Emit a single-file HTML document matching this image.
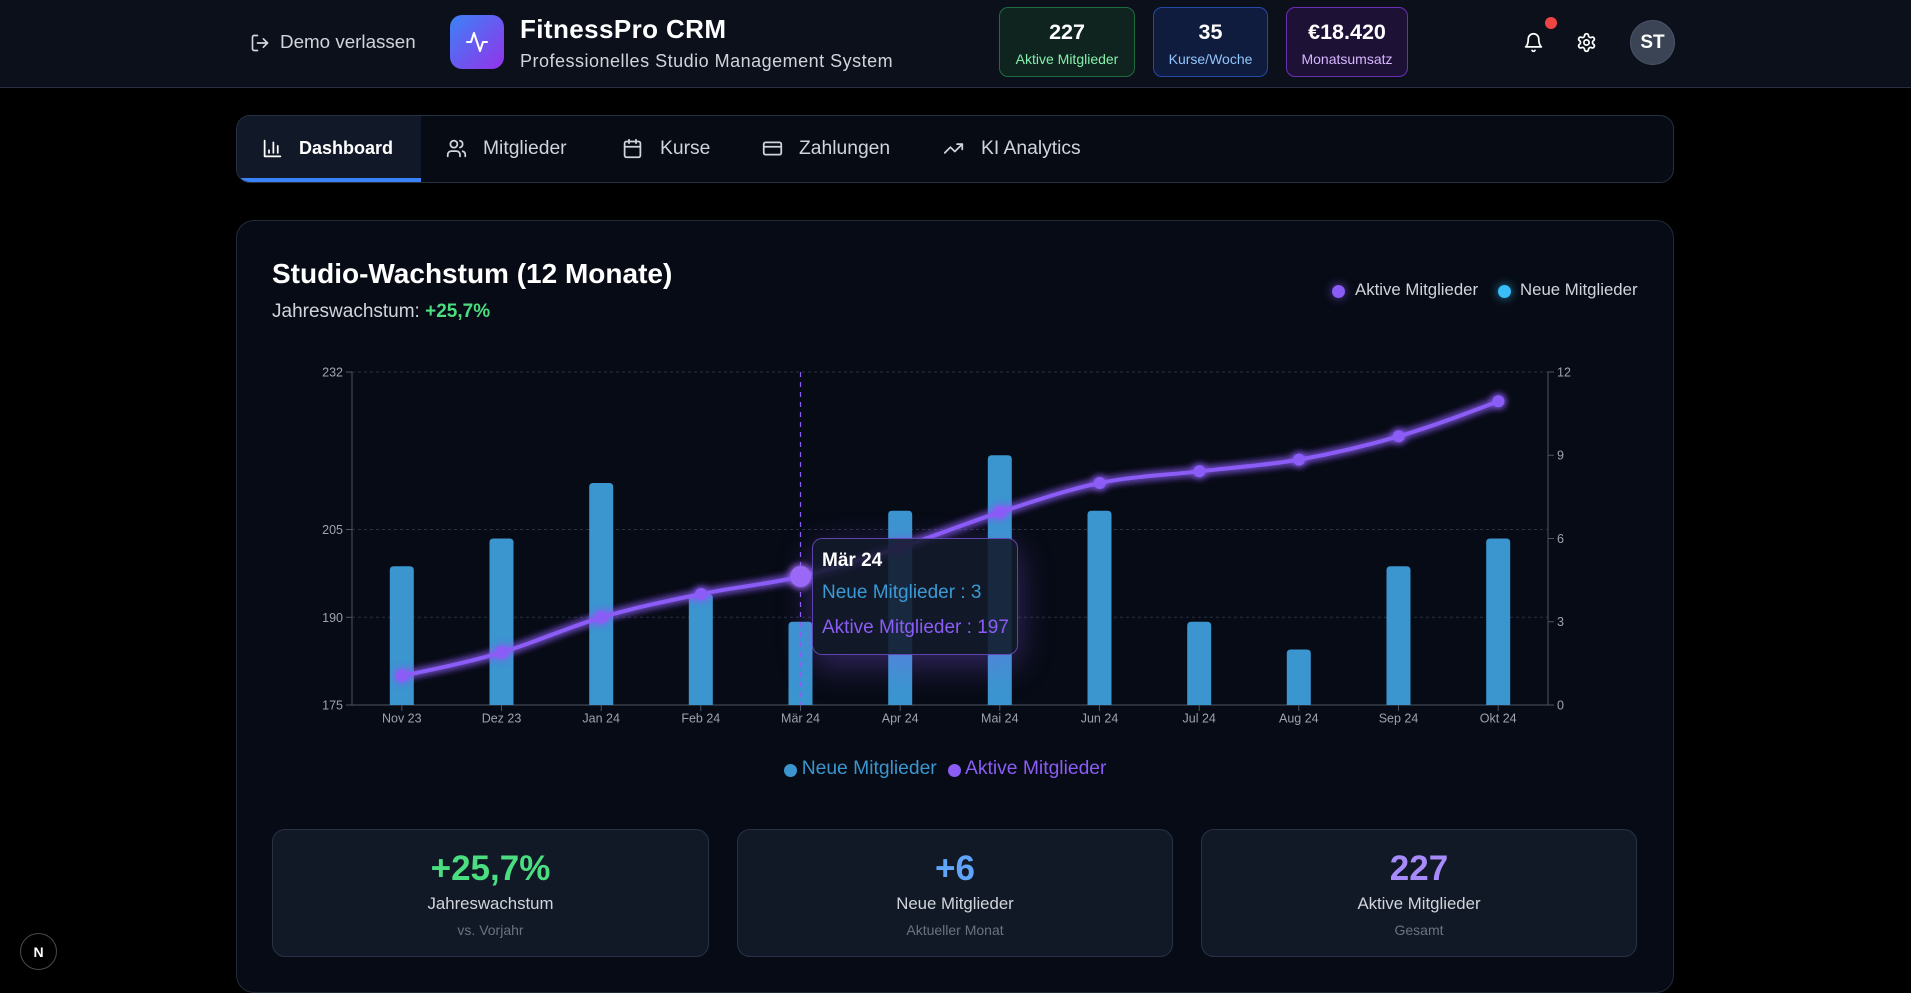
<!DOCTYPE html>
<html><head><meta charset="utf-8"><style>
*{box-sizing:border-box;margin:0;padding:0}
html,body{width:1911px;height:988px;overflow:hidden;background:#000;font-family:"Liberation Sans",Arial,sans-serif}
.a{position:absolute;line-height:1;white-space:nowrap}
.hdr{position:absolute;left:0;top:0;width:1911px;height:88px;background:#0b101b;border-bottom:1px solid #283041}
.sb{position:absolute;top:7px;height:70px;border-radius:9px;border:1px solid}
.sb .n{position:absolute;left:0;right:0;top:14px;text-align:center;font-weight:bold;font-size:21.5px;color:#fff;line-height:1}
.sb .l{position:absolute;left:0;right:0;top:44px;text-align:center;font-size:14px;line-height:1}
.tab{color:#d1d5db;font-size:19.3px}
.card{position:absolute;top:829px;height:128px;background:#111826;border:1px solid #293244;border-radius:13px}
.card .v{position:absolute;left:0;right:0;top:21px;text-align:center;font-weight:bold;font-size:35px;line-height:1}
.card .t{position:absolute;left:0;right:0;top:66px;text-align:center;font-size:16.8px;color:#d1d5db;line-height:1}
.card .s{position:absolute;left:0;right:0;top:93px;text-align:center;font-size:14px;color:#6b7280;line-height:1}
</style></head><body>

<div class="hdr"></div>
<svg class="a" style="left:250px;top:33px" width="20" height="20" viewBox="0 0 24 24" fill="none" stroke="#d1d5db" stroke-width="2" stroke-linecap="round" stroke-linejoin="round"><path d="M9 21H5a2 2 0 0 1-2-2V5a2 2 0 0 1 2-2h4"/><polyline points="16 17 21 12 16 7"/><line x1="21" y1="12" x2="9" y2="12"/></svg>
<div class="a" style="left:280px;top:33.4px;font-size:18.8px;color:#d1d5db">Demo verlassen</div>

<div class="a" style="left:450px;top:15px;width:54px;height:54px;border-radius:12px;background:linear-gradient(135deg,#3b82f6,#9333ea)"></div>
<svg class="a" style="left:465px;top:30px" width="24" height="24" viewBox="0 0 24 24" fill="none" stroke="#fff" stroke-width="2" stroke-linecap="round" stroke-linejoin="round"><polyline points="22 12 18 12 15 21 9 3 6 12 2 12"/></svg>
<div class="a" style="left:520px;top:15.7px;font-size:26px;font-weight:bold;color:#fff;letter-spacing:0.4px">FitnessPro CRM</div>
<div class="a" style="left:520px;top:51.5px;font-size:18px;color:#d1d5db;letter-spacing:0.5px">Professionelles Studio Management System</div>

<div class="sb" style="left:999px;width:136px;background:#0f231f;border-color:#1f6b40"><div class="n">227</div><div class="l" style="color:#86efac">Aktive Mitglieder</div></div>
<div class="sb" style="left:1153px;width:115px;background:#0f1c3d;border-color:#2449a8"><div class="n">35</div><div class="l" style="color:#93c5fd">Kurse/Woche</div></div>
<div class="sb" style="left:1286px;width:122px;background:#1d1236;border-color:#6b2fb3"><div class="n">€18.420</div><div class="l" style="color:#d8b4fe">Monatsumsatz</div></div>

<svg class="a" style="left:1523px;top:32px" width="21" height="21" viewBox="0 0 24 24" fill="none" stroke="#fff" stroke-width="2" stroke-linecap="round" stroke-linejoin="round"><path d="M6 8a6 6 0 0 1 12 0c0 7 3 9 3 9H3s3-2 3-9"/><path d="M10.3 21a1.94 1.94 0 0 0 3.4 0"/></svg>
<div class="a" style="left:1545px;top:17px;width:12px;height:12px;border-radius:50%;background:#ef4444"></div>
<svg class="a" style="left:1576px;top:32px" width="21" height="21" viewBox="0 0 24 24" fill="none" stroke="#fff" stroke-width="2" stroke-linecap="round" stroke-linejoin="round"><path d="M12.22 2h-.44a2 2 0 0 0-2 2v.18a2 2 0 0 1-1 1.73l-.43.25a2 2 0 0 1-2 0l-.15-.08a2 2 0 0 0-2.73.73l-.22.38a2 2 0 0 0 .73 2.73l.15.1a2 2 0 0 1 1 1.72v.51a2 2 0 0 1-1 1.74l-.15.09a2 2 0 0 0-.73 2.73l.22.38a2 2 0 0 0 2.73.73l.15-.08a2 2 0 0 1 2 0l.43.25a2 2 0 0 1 1 1.73V20a2 2 0 0 0 2 2h.44a2 2 0 0 0 2-2v-.18a2 2 0 0 1 1-1.730l.43-.25a2 2 0 0 1 2 0l.15.08a2 2 0 0 0 2.73-.73l.22-.39a2 2 0 0 0-.73-2.73l-.15-.08a2 2 0 0 1-1-1.74v-.5a2 2 0 0 1 1-1.74l.15-.09a2 2 0 0 0 .73-2.73l-.22-.38a2 2 0 0 0-2.73-.73l-.15.08a2 2 0 0 1-2 0l-.43-.25a2 2 0 0 1-1-1.73V4a2 2 0 0 0-2-2z"/><circle cx="12" cy="12" r="3"/></svg>
<div class="a" style="left:1630px;top:20px;width:45px;height:45px;border-radius:50%;background:#3b4454;border:1px solid #4a5466"></div>
<div class="a" style="left:1630px;top:33px;width:45px;text-align:center;font-size:19px;font-weight:bold;color:#fff">ST</div>

<!-- Nav -->
<div class="a" style="left:236px;top:115px;width:1438px;height:68px;border:1px solid #273142;border-radius:14px;background:#070b14;overflow:hidden">
  <div style="position:absolute;left:0;top:0;width:184px;height:66px;background:#111827"></div>
  <div style="position:absolute;left:0;top:62px;width:184px;height:4px;background:#3b82f6"></div>
</div>
<svg class="a" style="left:261.5px;top:137.5px" width="21" height="21" viewBox="0 0 24 24" fill="none" stroke="#fff" stroke-width="2" stroke-linecap="round" stroke-linejoin="round"><path d="M3 3v18h18"/><path d="M18 17V9"/><path d="M13 17V5"/><path d="M8 17v-3"/></svg>
<div class="a" style="left:299px;top:139px;font-size:18px;font-weight:bold;color:#fff">Dashboard</div>
<svg class="a" style="left:446px;top:137.5px" width="21" height="21" viewBox="0 0 24 24" fill="none" stroke="#d1d5db" stroke-width="2" stroke-linecap="round" stroke-linejoin="round"><path d="M16 21v-2a4 4 0 0 0-4-4H6a4 4 0 0 0-4 4v2"/><circle cx="9" cy="7" r="4"/><path d="M22 21v-2a4 4 0 0 0-3-3.87"/><path d="M16 3.13a4 4 0 0 1 0 7.75"/></svg>
<div class="a tab" style="left:483px;top:139px">Mitglieder</div>
<svg class="a" style="left:622.4px;top:137.5px" width="21" height="21" viewBox="0 0 24 24" fill="none" stroke="#d1d5db" stroke-width="2" stroke-linecap="round" stroke-linejoin="round"><rect x="3" y="4" width="18" height="18" rx="2"/><path d="M16 2v4"/><path d="M8 2v4"/><path d="M3 10h18"/></svg>
<div class="a tab" style="left:660px;top:139px">Kurse</div>
<svg class="a" style="left:762px;top:137.5px" width="21" height="21" viewBox="0 0 24 24" fill="none" stroke="#d1d5db" stroke-width="2" stroke-linecap="round" stroke-linejoin="round"><rect x="2" y="5" width="20" height="14" rx="2"/><path d="M2 10h20"/></svg>
<div class="a tab" style="left:799px;top:139px">Zahlungen</div>
<svg class="a" style="left:943px;top:137.5px" width="21" height="21" viewBox="0 0 24 24" fill="none" stroke="#d1d5db" stroke-width="2" stroke-linecap="round" stroke-linejoin="round"><polyline points="22 7 13.5 15.5 8.5 10.5 2 17"/><polyline points="16 7 22 7 22 13"/></svg>
<div class="a tab" style="left:981px;top:139px">KI Analytics</div>

<!-- Main card -->
<div class="a" style="left:236px;top:220px;width:1438px;height:773px;border:1px solid #222a3a;border-radius:18px;background:#070b15"></div>
<div class="a" style="left:272px;top:260.3px;font-size:28px;font-weight:bold;color:#fff">Studio-Wachstum (12 Monate)</div>
<div class="a" style="left:272px;top:301.9px;font-size:19px;color:#d1d5db">Jahreswachstum: <span style="color:#4ade80;font-weight:bold">+25,7%</span></div>

<div class="a" style="left:1331.5px;top:284.5px;width:13px;height:13px;border-radius:50%;background:#8b5cf6;box-shadow:0 0 10px rgba(139,92,246,0.7)"></div>
<div class="a" style="left:1355px;top:282.3px;font-size:16.8px;color:#d1d5db">Aktive Mitglieder</div>
<div class="a" style="left:1497.5px;top:284.5px;width:13px;height:13px;border-radius:50%;background:#38bdf8;box-shadow:0 0 10px rgba(56,189,248,0.7)"></div>
<div class="a" style="left:1520px;top:282.3px;font-size:16.8px;color:#d1d5db">Neue Mitglieder</div>

<svg class="a" style="left:0;top:0" width="1911" height="988" viewBox="0 0 1911 988" font-family="Liberation Sans, Arial, sans-serif">
<defs>
<filter id="glow" filterUnits="userSpaceOnUse" x="300" y="330" width="1300" height="420"><feGaussianBlur stdDeviation="4" result="b"/><feMerge><feMergeNode in="b"/><feMergeNode in="b"/><feMergeNode in="SourceGraphic"/></feMerge></filter>
</defs>
<g stroke="#283142" stroke-dasharray="3 3" stroke-width="1">
<line x1="352" y1="372" x2="1548" y2="372"/>
<line x1="352" y1="529.5" x2="1548" y2="529.5"/>
<line x1="352" y1="617.3" x2="1548" y2="617.3"/>
</g>
<g stroke="#4b5563" stroke-width="1">
<line x1="352" y1="372" x2="352" y2="705"/>
<line x1="1548" y1="372" x2="1548" y2="705"/>
<line x1="352" y1="705" x2="1548" y2="705"/>
<line x1="346" y1="372" x2="352" y2="372"/><line x1="346" y1="529.5" x2="352" y2="529.5"/><line x1="346" y1="617.3" x2="352" y2="617.3"/><line x1="346" y1="705" x2="352" y2="705"/>
<line x1="1548" y1="372" x2="1554" y2="372"/><line x1="1548" y1="455.25" x2="1554" y2="455.25"/><line x1="1548" y1="538.5" x2="1554" y2="538.5"/><line x1="1548" y1="621.75" x2="1554" y2="621.75"/><line x1="1548" y1="705" x2="1554" y2="705"/>
<line x1="401.8" y1="705" x2="401.8" y2="711"/><line x1="501.5" y1="705" x2="501.5" y2="711"/><line x1="601.2" y1="705" x2="601.2" y2="711"/><line x1="700.8" y1="705" x2="700.8" y2="711"/><line x1="800.5" y1="705" x2="800.5" y2="711"/><line x1="900.2" y1="705" x2="900.2" y2="711"/><line x1="999.8" y1="705" x2="999.8" y2="711"/><line x1="1099.5" y1="705" x2="1099.5" y2="711"/><line x1="1199.2" y1="705" x2="1199.2" y2="711"/><line x1="1298.8" y1="705" x2="1298.8" y2="711"/><line x1="1398.5" y1="705" x2="1398.5" y2="711"/><line x1="1498.2" y1="705" x2="1498.2" y2="711"/>
</g>
<g fill="#9ca3af" font-size="12.5">
<g text-anchor="end">
<text x="343" y="376.5">232</text><text x="343" y="534">205</text><text x="343" y="621.8">190</text><text x="343" y="709.5">175</text>
</g>
<g text-anchor="start">
<text x="1557" y="376.5">12</text><text x="1557" y="459.7">9</text><text x="1557" y="543">6</text><text x="1557" y="626.2">3</text><text x="1557" y="709.5">0</text>
</g>
<g text-anchor="middle">
<text x="401.8" y="722.5">Nov 23</text><text x="501.5" y="722.5">Dez 23</text><text x="601.2" y="722.5">Jan 24</text><text x="700.8" y="722.5">Feb 24</text><text x="800.5" y="722.5">Mär 24</text><text x="900.2" y="722.5">Apr 24</text><text x="999.8" y="722.5">Mai 24</text><text x="1099.5" y="722.5">Jun 24</text><text x="1199.2" y="722.5">Jul 24</text><text x="1298.8" y="722.5">Aug 24</text><text x="1398.5" y="722.5">Sep 24</text><text x="1498.2" y="722.5">Okt 24</text>
</g>
</g>
<g fill="#3b95cf">
<path d="M389.8,705V570.25Q389.8,566.25 393.8,566.25H409.8Q413.8,566.25 413.8,570.25V705Z"/>
<path d="M489.5,705V542.5Q489.5,538.5 493.5,538.5H509.5Q513.5,538.5 513.5,542.5V705Z"/>
<path d="M589.2,705V487Q589.2,483 593.2,483H609.2Q613.2,483 613.2,487V705Z"/>
<path d="M688.8,705V598Q688.8,594 692.8,594H708.8Q712.8,594 712.8,598V705Z"/>
<path d="M788.5,705V625.75Q788.5,621.75 792.5,621.75H808.5Q812.5,621.75 812.5,625.75V705Z"/>
<path d="M888.2,705V514.75Q888.2,510.75 892.2,510.75H908.2Q912.2,510.75 912.2,514.75V705Z"/>
<path d="M987.8,705V459.25Q987.8,455.25 991.8,455.25H1007.8Q1011.8,455.25 1011.8,459.25V705Z"/>
<path d="M1087.5,705V514.75Q1087.5,510.75 1091.5,510.75H1107.5Q1111.5,510.75 1111.5,514.75V705Z"/>
<path d="M1187.2,705V625.75Q1187.2,621.75 1191.2,621.75H1207.2Q1211.2,621.75 1211.2,625.75V705Z"/>
<path d="M1286.8,705V653.5Q1286.8,649.5 1290.8,649.5H1306.8Q1310.8,649.5 1310.8,653.5V705Z"/>
<path d="M1386.5,705V570.25Q1386.5,566.25 1390.5,566.25H1406.5Q1410.5,566.25 1410.5,570.25V705Z"/>
<path d="M1486.2,705V542.5Q1486.2,538.5 1490.2,538.5H1506.2Q1510.2,538.5 1510.2,542.5V705Z"/>
</g>
<line x1="800.5" y1="372" x2="800.5" y2="705" stroke="#8b5cf6" stroke-width="1.2" stroke-dasharray="5 5"/>
<g filter="url(#glow)">
<path fill="none" stroke="#8b5cf6" stroke-width="4" stroke-linecap="round" d="M402,675.8 C435.2,668.97 468.5,662.13 501.7,652.4 C534.9,642.67 568.1,627.13 601.3,617.4 C634.5,607.67 667.8,600.82 701,594 C734.2,587.18 767.5,584.28 800.7,576.5 C833.9,568.72 867.2,558.02 900.4,547.3 C933.6,536.58 966.8,522.92 1000,512.2 C1033.2,501.48 1066.5,489.82 1099.7,483 C1132.9,476.18 1166.2,475.2 1199.4,471.3 C1232.6,467.4 1265.8,465.43 1299,459.6 C1332.2,453.77 1365.5,446.03 1398.7,436.3 C1431.9,426.57 1465.2,413.88 1498.4,401.2"/>
<g fill="#8b5cf6">
<circle cx="402" cy="675.8" r="6"/><circle cx="501.7" cy="652.4" r="6"/><circle cx="601.3" cy="617.4" r="6"/><circle cx="701" cy="594" r="6"/><circle cx="900.4" cy="547.3" r="6"/><circle cx="1000" cy="512.2" r="6"/><circle cx="1099.7" cy="483" r="6"/><circle cx="1199.4" cy="471.3" r="6"/><circle cx="1299" cy="459.6" r="6"/><circle cx="1398.7" cy="436.3" r="6"/><circle cx="1498.4" cy="401.2" r="6"/>
<circle cx="800.7" cy="576.5" r="10.5" fill="#9d6bf7"/>
</g>
</g>
</svg>

<!-- Tooltip -->
<div class="a" style="left:812px;top:538px;width:206px;height:117px;border:1px solid rgba(139,92,246,0.65);border-radius:10px;background:rgba(19,26,43,0.88);box-shadow:0 10px 34px rgba(139,92,246,0.35)"></div>
<div class="a" style="left:822px;top:550.9px;font-size:19px;font-weight:bold;color:#fff">Mär 24</div>
<div class="a" style="left:822px;top:582.6px;font-size:19px;color:#3b9ad6">Neue Mitglieder : 3</div>
<div class="a" style="left:822px;top:617.9px;font-size:19px;color:#8b5cf6">Aktive Mitglieder : 197</div>

<!-- Bottom legend -->
<div class="a" style="left:783.5px;top:763.5px;width:13px;height:13px;border-radius:50%;background:#3b95cf"></div>
<div class="a" style="left:801.7px;top:759.4px;font-size:19.3px;color:#3b95cf">Neue Mitglieder</div>
<div class="a" style="left:947.5px;top:763.5px;width:13px;height:13px;border-radius:50%;background:#8b5cf6"></div>
<div class="a" style="left:965px;top:759.4px;font-size:19.3px;color:#8b5cf6">Aktive Mitglieder</div>

<!-- Stat cards -->
<div class="card" style="left:272px;width:437px"><div class="v" style="color:#4ade80">+25,7%</div><div class="t">Jahreswachstum</div><div class="s">vs. Vorjahr</div></div>
<div class="card" style="left:737px;width:436px"><div class="v" style="color:#60a5fa">+6</div><div class="t">Neue Mitglieder</div><div class="s">Aktueller Monat</div></div>
<div class="card" style="left:1201px;width:436px"><div class="v" style="color:#a78bfa">227</div><div class="t">Aktive Mitglieder</div><div class="s">Gesamt</div></div>

<!-- Next.js badge -->
<div class="a" style="left:20px;top:933px;width:37px;height:37px;border-radius:50%;background:#000;border:1.5px solid #4a4a4a"></div>
<div class="a" style="left:20px;top:945px;width:37px;text-align:center;font-size:14px;font-weight:bold;color:#fff">N</div>

</body></html>
